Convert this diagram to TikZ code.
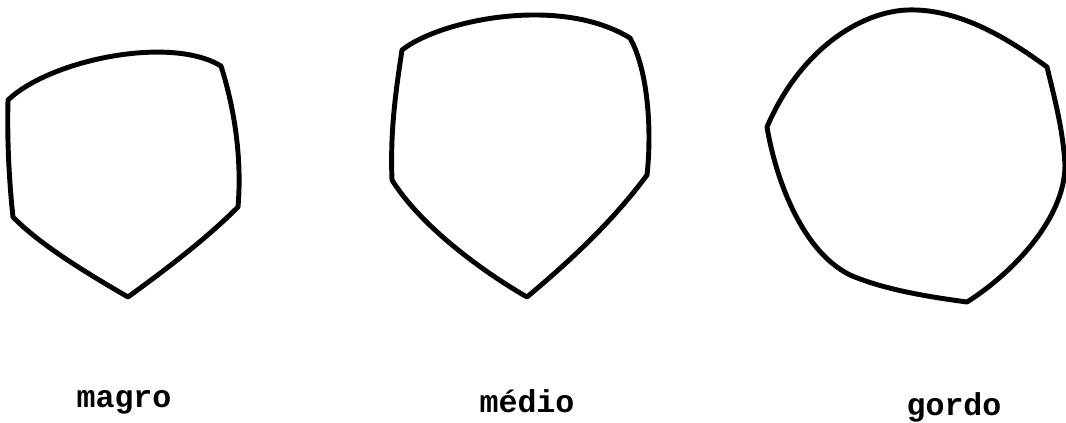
\documentclass[tikz,border=0pt]{standalone}
\usepackage{fontspec}
\usepackage{tikz}
\newfontfamily\maquina{Liberation Mono}

\begin{document}
\begin{tikzpicture}[x=0.02cm, y=-0.02cm,
    contorno/.style={line width=2.8pt, line join=round, line cap=round},
    rotulo/.style={anchor=base, font=\maquina\bfseries\fontsize{18}{20}\selectfont}]
    \useasboundingbox (0,0) rectangle (1066,423);
    % magro
    \draw[contorno] (8,100) .. controls (50,60) and (170,35) .. (221,66)
        .. controls (235,110) and (242,160) .. (238,207)
        .. controls (205,240) and (165,270) .. (128,297)
        .. controls (90,275) and (40,245) .. (13,217)
        .. controls (9,180) and (7,140) .. cycle;
    % medio
    \draw[contorno] (402,50) .. controls (440,20) and (560,-5) .. (630,38)
        .. controls (648,70) and (652,130) .. (647,175)
        .. controls (610,225) and (565,265) .. (527,297)
        .. controls (480,270) and (420,225) .. (392,180)
        .. controls (390,130) and (396,90) .. cycle;
    % gordo
    \draw[contorno] (767,127) .. controls (800,50) and (860,12) .. (907,10)
        .. controls (960,8) and (1010,40) .. (1047,67)
        .. controls (1055,100) and (1063,130) .. (1065,165)
        .. controls (1065,220) and (1010,275) .. (967,302)
        .. controls (930,297) and (885,290) .. (850,275)
        .. controls (800,250) and (775,175) .. cycle;
    \node (magro) at (124,407) [rotulo] {magro};
    \node (medio) at (527,412) [rotulo] {médio};
    \node (gordo) at (954,415) [rotulo] {gordo};
\end{tikzpicture}
\end{document}
